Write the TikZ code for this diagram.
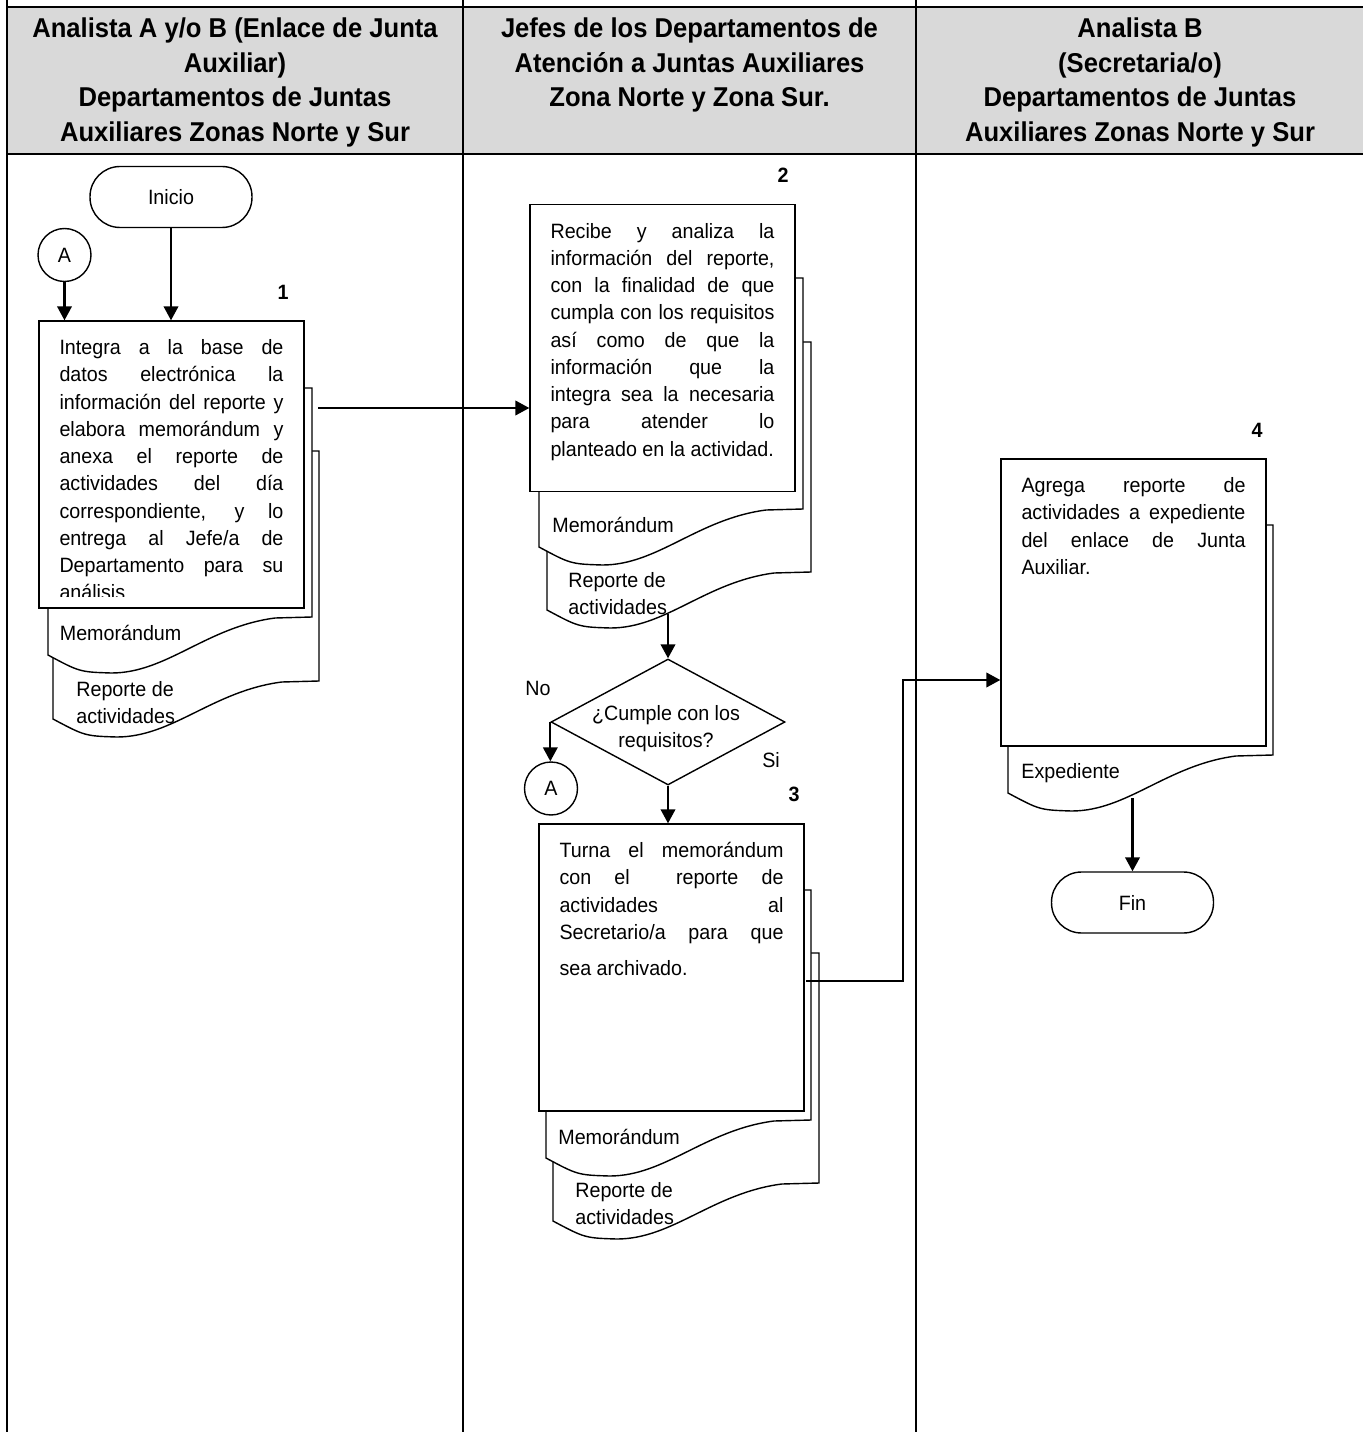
\documentclass[tikz,border=0pt]{standalone}
\usepackage{fontspec}
\setmainfont[FakeStretch=0.95]{Liberation Sans}
\newfontfamily\fuentetitulo[FakeStretch=0.94]{Liberation Sans}
\usetikzlibrary{positioning,shapes.geometric,arrows.meta}

\tikzset{
  lineatabla/.style={line width=1.5pt},
  encabezado/.style={anchor=north,inner sep=0pt,align=center,
    font=\fuentetitulo\bfseries\fontsize{15.5pt}{19.8pt}\selectfont},
  terminal/.style={draw,line width=0.8pt,rounded corners=0.6cm,
    minimum width=3.24cm,minimum height=1.22cm,inner sep=0pt},
  conector/.style={draw,line width=0.8pt,circle,minimum size=1.06cm,inner sep=0pt},
  proceso/.style={draw,line width=0.8pt,fill=white,minimum width=5.3cm,
    minimum height=5.74cm,inner sep=0pt},
  documento/.style={draw,line width=0.8pt,fill=white},
  decision/.style={draw,line width=0.8pt,diamond,aspect=1.86,inner sep=0pt,
    minimum width=4.68cm,minimum height=2.52cm},
  texto/.style={inner sep=0pt,align=left},
  etiqueta/.style={anchor=north west,inner sep=0pt,align=left},
  paso/.style={inner sep=0pt,font=\bfseries},
  flecha/.style={line width=1.3pt,-{Triangle[length=0.28cm,width=0.29cm]}}
}

\begin{document}
\begin{tikzpicture}[x=0.02cm,y=-0.02cm]
    \fontsize{11.8pt}{15.5pt}\selectfont
    % --- macro de apoyo -------------------------------------------------
    \def\anchotexto{4.48cm}   % ancho del texto en las cajas
    \def\linea#1{\makebox[\anchotexto][s]{\strut#1}}
    \def\documento#1#2#3#4{% izq, arriba, der, abajo (lado derecho)
      \draw[documento] (#1,#2) -- (#3,#2) -- (#3,#4)
        -- ({#1+0.86*(#3-#1)},#4+1)
        .. controls ({#1+0.6*(#3-#1)},#4+10) and ({#1+0.45*(#3-#1)},#4+56)
        .. ({#1+0.24*(#3-#1)},#4+56)
        .. controls ({#1+0.12*(#3-#1)},#4+55) .. (#1,#4+38) -- cycle;}
    \useasboundingbox (0,0) rectangle (1363,1432);
    % --- tabla y encabezados --------------------------------------------
    \fill[black!15] (7,7) rectangle (1363,154);
    \foreach \x in {7,463,916} \draw[lineatabla] (\x,0) -- (\x,1432);
    \draw[lineatabla] (7,7) -- (1363,7);
    \draw[lineatabla] (7,154) -- (1363,154);
    \node[encabezado] (carril1) at (235,12.6) {\strut Analista A y/o B (Enlace de Junta\\Auxiliar)\\Departamentos de Juntas\\Auxiliares Zonas Norte y Sur};
    \node[encabezado] (carril2) at (689.5,12.6) {\strut Jefes de los Departamentos de\\Atención a Juntas Auxiliares\\Zona Norte y Zona Sur.};
    \node[encabezado] (carril3) at (1140,12.6) {\strut Analista B\\(Secretaria/o)\\Departamentos de Juntas\\Auxiliares Zonas Norte y Sur};
    % --- carril 1 -------------------------------------------------------
    \node[terminal] (inicio) at (171,197) {Inicio};
    \node[conector] (conA1) at (64.5,255) {A};
    \node[paso] (paso1) at (283,292) {1};
    \documento{53}{451}{319}{681}
    \node[etiqueta] (rep1) at (76,677) {\strut Reporte de\\actividades};
    \documento{48}{388}{312}{617}
    \node[etiqueta] (memo1) at (59.5,621) {\strut Memorándum};
    \node[proceso] (caja1) at (171.5,464.5) {};
    \begin{scope}
      \clip (39,321) rectangle (304,596);
      \node[texto, below=0.3cm of caja1.north] (texto1) {\linea{Integra a la base de}\\\linea{datos electrónica la}\\\linea{información del reporte y}\\\linea{elabora memorándum y}\\\linea{anexa el reporte de}\\\linea{actividades del día}\\\linea{correspondiente, y lo}\\\linea{entrega al Jefe/a de}\\\linea{Departamento para su}\\\strut análisis};
    \end{scope}
    \coordinate (salida1) at (318,408);
    % --- carril 2 -------------------------------------------------------
    \node[paso] (paso2) at (783,175) {2};
    \documento{547}{342}{811}{572}
    \node[etiqueta] (rep2) at (568,568) {\strut Reporte de\\actividades};
    \documento{539}{278}{803}{509}
    \node[etiqueta] (memo2) at (552,513) {\strut Memorándum};
    \node[proceso] (caja2) at (662.5,348) {};
    \node[texto, below=0.3cm of caja2.north] (texto2) {\linea{Recibe y analiza la}\\\linea{información del reporte,}\\\linea{con la finalidad de que}\\\linea{cumpla con los requisitos}\\\linea{así como de que la}\\\linea{información que la}\\\linea{integra sea la necesaria}\\\linea{para atender lo}\\\strut planteado en la actividad.};
    \coordinate (salida2) at (668,614);
    \node[decision] (decision) at (668,722) {};
    \node[align=center,inner sep=0pt] (pregunta) at (666,729) {¿Cumple con los\\requisitos?};
    \node (etiqNo) at (538,688) {No};
    \node (etiqSi) at (771,760) {Si};
    \node[conector] (conA2) at (551,788.5) {A};
    \node[paso] (paso3) at (794,794) {3};
    \documento{553}{953}{819}{1183}
    \node[etiqueta] (rep3) at (575,1178) {\strut Reporte de\\actividades};
    \documento{546}{890}{811}{1120}
    \node[etiqueta] (memo3) at (558,1125) {\strut Memorándum};
    \node[proceso] (caja3) at (671.5,967.5) {};
    \node[texto, below=0.3cm of caja3.north] (texto3) {\linea{Turna el memorándum}\\\linea{con el\ \ reporte de}\\\linea{actividades al}\\\linea{Secretario/a para que}\\[4.9pt]\strut sea archivado.};
    \coordinate (salida3) at (806,981);
    \coordinate (codo3) at (903,680);
    % --- carril 3 -------------------------------------------------------
    \node[paso] (paso4) at (1257,430) {4};
    \documento{1008}{525}{1273}{755}
    \node[etiqueta] (exped) at (1021,759) {\strut Expediente};
    \node[proceso] (caja4) at (1133.5,602.5) {};
    \node[texto, below=0.3cm of caja4.north] (texto4) {\linea{Agrega reporte de}\\\linea{actividades a expediente}\\\linea{del enlace de Junta}\\\strut Auxiliar.};
    \coordinate (salida4) at (1132.5,798);
    \node[terminal] (fin) at (1132.5,902.5) {Fin};
    % --- flechas --------------------------------------------------------
    \draw[flecha] (inicio.south) -- (inicio.south |- caja1.north);
    \draw[flecha] (conA1.south) -- (conA1.south |- caja1.north);
    \draw[flecha] (salida1) -- (salida1 -| caja2.west);
    \draw[flecha] (salida2) -- (decision.north);
    \draw[flecha] (decision.west) -- (decision.west |- conA2.north);
    \draw[flecha] (decision.south) -- (decision.south |- caja3.north);
    \draw[flecha] (salida3) -| (codo3) -- (codo3 -| caja4.west);
    \draw[flecha] (salida4) -- (fin.north);
\end{tikzpicture}
\end{document}
